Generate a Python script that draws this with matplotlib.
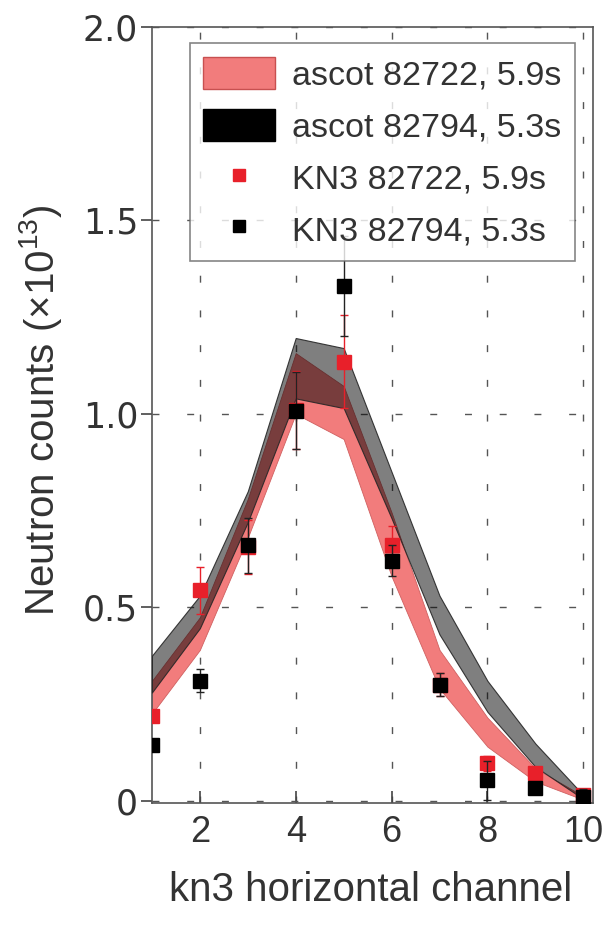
import numpy as np
import matplotlib
matplotlib.use("Agg")
import matplotlib.pyplot as plt
from matplotlib.patches import Patch
from matplotlib.lines import Line2D

plt.rcParams['font.family'] = ['Liberation Sans', 'DejaVu Sans']
plt.rcParams['mathtext.default'] = 'regular'

# ---- data ----
channels = [1, 2, 3, 4, 5, 6, 7, 8, 9, 10]

# ascot bands (lower / upper edge)
ascot_82722_lo = [0.225, 0.39, 0.68, 1.00, 0.935, 0.58, 0.29, 0.14, 0.05, 0.003]
ascot_82722_hi = [0.31, 0.474, 0.78, 1.157, 1.072, 0.745, 0.39, 0.215, 0.084, 0.012]
ascot_82794_lo = [0.28, 0.446, 0.72, 1.04, 1.015, 0.73, 0.43, 0.23, 0.088, 0.005]
ascot_82794_hi = [0.375, 0.53, 0.80, 1.196, 1.17, 0.85, 0.53, 0.31, 0.148, 0.015]

# KN3 measurements
kn3_82722 = [0.22, 0.544, 0.655, 1.01, 1.135, 0.66, 0.30, 0.097, 0.072, 0.015]
kn3_82722_err = [0.01, 0.06, 0.07, 0.10, 0.12, 0.05, 0.03, 0.02, 0.01, 0.01]
kn3_82794 = [0.145, 0.31, 0.66, 1.008, 1.33, 0.62, 0.30, 0.053, 0.034, 0.01]
kn3_82794_err = [0.01, 0.03, 0.07, 0.10, 0.13, 0.04, 0.03, 0.05, 0.01, 0.02]

labels = ['ascot 82722, 5.9s', 'ascot 82794, 5.3s',
          'KN3 82722, 5.9s', 'KN3 82794, 5.3s']
xticks = [2, 4, 6, 8, 10]
yticks = [0, 0.5, 1.0, 1.5, 2.0]
ytick_labels = ['0', '0.5', '1.0', '1.5', '2.0']

PINK = '#f27c7c'
RED = '#e8202a'
TXT = '#333333'

fig = plt.figure(figsize=(6.10, 9.27), dpi=100)
ax = fig.add_axes([0.249, 0.134, 0.723, 0.837])

# bands
ax.fill_between(channels, ascot_82722_lo, ascot_82722_hi, facecolor=PINK,
                edgecolor='#d06060', linewidth=0.6, zorder=2)
ax.fill_between(channels, ascot_82794_lo, ascot_82794_hi, facecolor=(0, 0, 0, 0.5),
                edgecolor=(0.15, 0.15, 0.15, 0.9), linewidth=0.8, zorder=3)

# measurements
ax.errorbar(channels, kn3_82722, yerr=kn3_82722_err, fmt='s', ms=10,
            color=RED, ecolor=RED, elinewidth=1, capsize=3, zorder=4)
ax.errorbar(channels, kn3_82794, yerr=kn3_82794_err, fmt='s', ms=10,
            color='black', ecolor='#222222', elinewidth=1, capsize=3, zorder=5)

ax.set_xlim(1, 10.2)
ax.set_ylim(-0.005, 2.0)
ax.set_xticks(xticks)
ax.set_yticks(yticks)
ax.set_yticklabels(ytick_labels)

ax.grid(True, color='#555555', linestyle=(0, (5, 20)), linewidth=1.0)
ax.set_axisbelow(True)

for s in ax.spines.values():
    s.set_color('#555555')
    s.set_linewidth(1.2)

ax.tick_params(axis='x', direction='in', length=9, width=1.2, color='#444444',
               labelsize=26, labelcolor=TXT, pad=9)
ax.tick_params(axis='y', direction='out', length=8, width=1.2, color='#444444',
               labelsize=25, labelcolor=TXT, pad=2)
for lab in ax.get_yticklabels():
    lab.set_fontfamily('DejaVu Sans')

ax.set_xlabel('kn3 horizontal channel', fontsize=29, color=TXT, va='top')
ax.xaxis.set_label_coords(0.497, -0.088)
ax.set_ylabel('Neutron counts (×10$^{13}$)', fontsize=29, color=TXT)
ax.yaxis.set_label_coords(-0.20, 0.506)

handles = [
    Patch(facecolor=PINK, edgecolor='#c85050', linewidth=1),
    Patch(facecolor='black', edgecolor='black'),
    Line2D([], [], marker='s', ls='none', color=RED, ms=8),
    Line2D([], [], marker='s', ls='none', color='black', ms=8),
]
leg = ax.legend(handles, labels, loc='upper right', bbox_to_anchor=(0.959, 0.979),
                borderaxespad=0, fontsize=24.5, frameon=True, fancybox=False,
                handlelength=2.1, handleheight=1.1, labelspacing=0.5,
                handletextpad=0.5, borderpad=0.4)
leg.get_frame().set_edgecolor('#666666')
leg.get_frame().set_linewidth(1.2)
for t in leg.get_texts():
    t.set_color(TXT)
leg.set_zorder(10)

fig.savefig('out.png', dpi=100)
